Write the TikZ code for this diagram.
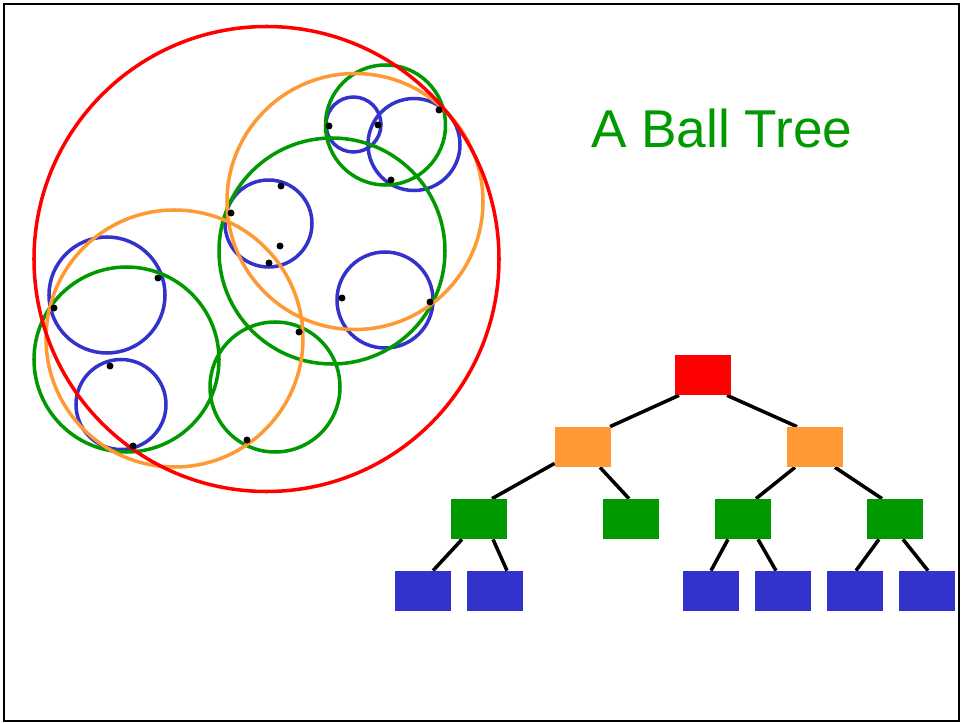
\documentclass[tikz,border=0pt]{standalone}
\usepackage{fontspec}
\setmainfont{Liberation Sans}
\usepackage{tikz}
\usetikzlibrary{calc, backgrounds}
\definecolor{ballred}{RGB}{255,0,0}
\definecolor{ballorange}{RGB}{255,153,51}
\definecolor{ballgreen}{RGB}{0,153,0}
\definecolor{ballblue}{RGB}{51,51,204}

\begin{document}
\begin{tikzpicture}[
    x=0.02cm, y=-0.02cm,
    ball/.style={line width=2pt},
    tbox/.style={inner sep=0pt,minimum width=1.12cm,minimum height=0.8cm},
    link/.style={line width=2pt,black}
  ]
  \useasboundingbox (0,0) rectangle (961,723);
  \draw[line width=1.3pt] (4,4) rectangle (959,721);

  % the balls
  \draw[ball,ballblue] (353.5,124.5) circle[radius=27.5] (414,144.5) circle[radius=46]
    (268.5,223.5) circle[radius=43.5] (385,300) circle[radius=48]
    (107,295) circle[radius=58] (121,404.5) circle[radius=45];
  \draw[ball,ballgreen] (385.5,125) circle[radius=60] (332,251) circle[radius=113]
    (126.5,359.5) circle[radius=92.5] (275,387) circle[radius=65];
  \draw[ball,ballorange] (355,201.5) circle[radius=128] (174.5,338.5) circle[radius=128.5];
  \draw[ball,ballred] (266.5,259) circle[radius=232.5];

  \foreach \p in {(329,126),(378,125),(439,110),(391,180),(281,186),(231,213),
    (280,246),(269,263),(342,298),(430,302),(158,278),(54,308),(299,332),
    (110,366),(133,446),(247,440)}
    \fill \p circle[radius=3.5];

  \node[text=ballgreen,font=\fontsize{30.3}{36}\selectfont,anchor=base,inner sep=0pt]
    (title) at (721.7,147.3) {A Ball Tree};

  % the tree
  \node[tbox,fill=ballred] (root) at (703,375) {};
  \node[tbox,fill=ballorange] (o1) at (583,447) {};
  \node[tbox,fill=ballorange] (o2) at (815,447) {};
  \node[tbox,fill=ballgreen] (g1) at (479,519) {};
  \node[tbox,fill=ballgreen] (g2) at (631,519) {};
  \node[tbox,fill=ballgreen] (g3) at (743,519) {};
  \node[tbox,fill=ballgreen] (g4) at (895,519) {};
  \node[tbox,fill=ballblue] (b1) at (423,591) {};
  \node[tbox,fill=ballblue] (b2) at (495,591) {};
  \node[tbox,fill=ballblue] (b3) at (711,591) {};
  \node[tbox,fill=ballblue] (b4) at (783,591) {};
  \node[tbox,fill=ballblue] (b5) at (855,591) {};
  \node[tbox,fill=ballblue] (b6) at (927,591) {};

  \begin{scope}[on background layer]
    \draw[link] ($(root.south)+(-24,0)$) -- ($(o1.north)+(27,0)$);
    \draw[link] ($(root.south)+(24,0)$) -- ($(o2.north)+(-18,0)$);
    \draw[link] ($(o1.south west)+(0,-4)$) -- ($(g1.north)+(13,0)$);
    \draw[link] ($(o1.south)+(17,0)$) -- ($(g2.north)+(-2,0)$);
    \draw[link] ($(o2.south)+(-20,0)$) -- ($(g3.north)+(13,0)$);
    \draw[link] ($(o2.south)+(20,0)$) -- ($(g4.north)+(-13,0)$);
    \draw[link] ($(g1.south)+(-17,0)$) -- ($(b1.north)+(10,0)$);
    \draw[link] ($(g1.south)+(14,0)$) -- ($(b2.north)+(12,0)$);
    \draw[link] ($(g3.south)+(-15,0)$) -- (b3.north);
    \draw[link] ($(g3.south)+(15,0)$) -- ($(b4.north)+(-7,0)$);
    \draw[link] ($(g4.south)+(-16,0)$) -- ($(b5.north)+(1,0)$);
    \draw[link] ($(g4.south)+(8,0)$) -- ($(b6.north)+(1,0)$);
  \end{scope}
\end{tikzpicture}
\end{document}
